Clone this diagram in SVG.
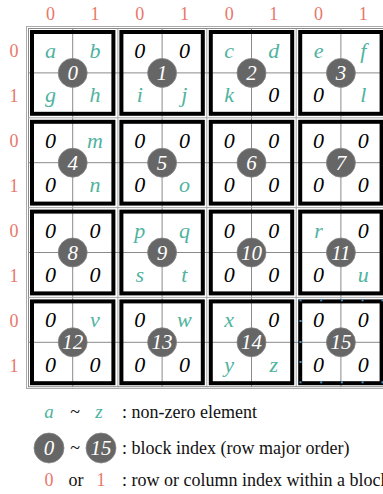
<svg xmlns="http://www.w3.org/2000/svg" width="383" height="494" viewBox="0 0 383 494">
<style>
.grid line{stroke:#8a8a8a;stroke-width:1}
.blk{fill:none;stroke:#000;stroke-width:4}
.nz{font-family:"Liberation Serif","Times New Roman",serif;font-style:italic;font-size:22px;fill:#4fb3a0;text-anchor:middle}
.z{font-family:"Liberation Serif","Times New Roman",serif;font-style:italic;font-size:22px;fill:#000;text-anchor:middle}
.circ{fill:#666;stroke:#888;stroke-width:0.8}
.cn{font-family:"Liberation Serif","Times New Roman",serif;font-style:italic;font-size:21px;fill:#fff;text-anchor:middle}
.ax{font-family:"Liberation Serif","Times New Roman",serif;font-size:18px;fill:#e8776a;text-anchor:middle}
.lg{font-family:"Liberation Serif","Times New Roman",serif;font-size:18px;fill:#111}
.h{fill:#4a8fc4}
</style>
<rect width="383" height="494" fill="#fff"/>
<g id="axes">
<text class="ax" x="50.4" y="20">0</text><text class="ax" x="95" y="20">1</text>
<text class="ax" x="139.8" y="20">0</text><text class="ax" x="184.4" y="20">1</text>
<text class="ax" x="229.2" y="20">0</text><text class="ax" x="273.8" y="20">1</text>
<text class="ax" x="318.6" y="20">0</text><text class="ax" x="363.2" y="20">1</text>
<text class="ax" x="14" y="56.5">0</text><text class="ax" x="14" y="101.5">1</text>
<text class="ax" x="14" y="146.5">0</text><text class="ax" x="14" y="191.5">1</text>
<text class="ax" x="14" y="236.5">0</text><text class="ax" x="14" y="281.5">1</text>
<text class="ax" x="14" y="326.5">0</text><text class="ax" x="14" y="371.5">1</text>
</g>
<g id="grid" class="grid">
<rect x="26.5" y="26.5" width="370" height="362" fill="none" stroke="#aaa" stroke-width="1"/>
<line x1="28.5" y1="28.5" x2="28.5" y2="387.2"/>
<line x1="72.7" y1="28" x2="72.7" y2="387.2"/>
<line x1="117.9" y1="28" x2="117.9" y2="387.2" style="stroke:#aaa"/>
<line x1="162.1" y1="28" x2="162.1" y2="387.2"/>
<line x1="206.8" y1="28" x2="206.8" y2="387.2" style="stroke:#aaa"/>
<line x1="251.5" y1="28" x2="251.5" y2="387.2"/>
<line x1="296.2" y1="28" x2="296.2" y2="387.2" style="stroke:#aaa"/>
<line x1="340.9" y1="28" x2="340.9" y2="387.2"/>
<line x1="28" y1="28.5" x2="385" y2="28.5"/>
<line x1="28" y1="72.9" x2="385" y2="72.9"/>
<line x1="28" y1="117.8" x2="385" y2="117.8" style="stroke:#aaa"/>
<line x1="28" y1="162.7" x2="385" y2="162.7"/>
<line x1="28" y1="207.6" x2="385" y2="207.6" style="stroke:#aaa"/>
<line x1="28" y1="252.5" x2="385" y2="252.5"/>
<line x1="28" y1="297.4" x2="385" y2="297.4" style="stroke:#aaa"/>
<line x1="28" y1="342.3" x2="385" y2="342.3"/>
<line x1="28" y1="386.7" x2="385" y2="386.7"/>
</g>
<g id="block0"><rect class="blk" x="32" y="32" width="81.4" height="81.8"/>
<text class="nz" x="50.4" y="57.5">a</text><text class="nz" x="95" y="57.5">b</text><text class="nz" x="50.4" y="102">g</text><text class="nz" x="95" y="102">h</text>
<circle class="circ" cx="72.7" cy="72.9" r="14.5"/><text class="cn" x="72.7" y="80">0</text></g>
<g id="block1"><rect class="blk" x="121.4" y="32" width="81.4" height="81.8"/>
<text class="z" x="139.8" y="57.5">0</text><text class="z" x="184.4" y="57.5">0</text><text class="nz" x="139.8" y="102">i</text><text class="nz" x="184.4" y="102">j</text>
<circle class="circ" cx="162.1" cy="72.9" r="14.5"/><text class="cn" x="162.1" y="80">1</text></g>
<g id="block2"><rect class="blk" x="210.8" y="32" width="81.4" height="81.8"/>
<text class="nz" x="229.2" y="57.5">c</text><text class="nz" x="273.8" y="57.5">d</text><text class="nz" x="229.2" y="102">k</text><text class="z" x="273.8" y="102">0</text>
<circle class="circ" cx="251.5" cy="72.9" r="14.5"/><text class="cn" x="251.5" y="80">2</text></g>
<g id="block3"><rect class="blk" x="300.2" y="32" width="81.4" height="81.8"/>
<text class="nz" x="318.6" y="57.5">e</text><text class="nz" x="363.2" y="57.5">f</text><text class="z" x="318.6" y="102">0</text><text class="nz" x="363.2" y="102">l</text>
<circle class="circ" cx="340.9" cy="72.9" r="14.5"/><text class="cn" x="340.9" y="80">3</text></g>

<g id="block4"><rect class="blk" x="32" y="121.8" width="81.4" height="81.8"/>
<text class="z" x="50.4" y="147.5">0</text><text class="nz" x="95" y="147.5">m</text><text class="z" x="50.4" y="192">0</text><text class="nz" x="95" y="192">n</text>
<circle class="circ" cx="72.7" cy="162.7" r="14.5"/><text class="cn" x="72.7" y="169.8">4</text></g>
<g id="block5"><rect class="blk" x="121.4" y="121.8" width="81.4" height="81.8"/>
<text class="z" x="139.8" y="147.5">0</text><text class="z" x="184.4" y="147.5">0</text><text class="z" x="139.8" y="192">0</text><text class="nz" x="184.4" y="192">o</text>
<circle class="circ" cx="162.1" cy="162.7" r="14.5"/><text class="cn" x="162.1" y="169.8">5</text></g>
<g id="block6"><rect class="blk" x="210.8" y="121.8" width="81.4" height="81.8"/>
<text class="z" x="229.2" y="147.5">0</text><text class="z" x="273.8" y="147.5">0</text><text class="z" x="229.2" y="192">0</text><text class="z" x="273.8" y="192">0</text>
<circle class="circ" cx="251.5" cy="162.7" r="14.5"/><text class="cn" x="251.5" y="169.8">6</text></g>
<g id="block7"><rect class="blk" x="300.2" y="121.8" width="81.4" height="81.8"/>
<text class="z" x="318.6" y="147.5">0</text><text class="z" x="363.2" y="147.5">0</text><text class="z" x="318.6" y="192">0</text><text class="z" x="363.2" y="192">0</text>
<circle class="circ" cx="340.9" cy="162.7" r="14.5"/><text class="cn" x="340.9" y="169.8">7</text></g>

<g id="block8"><rect class="blk" x="32" y="211.6" width="81.4" height="81.8"/>
<text class="z" x="50.4" y="237.5">0</text><text class="z" x="95" y="237.5">0</text><text class="z" x="50.4" y="282">0</text><text class="z" x="95" y="282">0</text>
<circle class="circ" cx="72.7" cy="252.5" r="14.5"/><text class="cn" x="72.7" y="259.6">8</text></g>
<g id="block9"><rect class="blk" x="121.4" y="211.6" width="81.4" height="81.8"/>
<text class="nz" x="139.8" y="237.5">p</text><text class="nz" x="184.4" y="237.5">q</text><text class="nz" x="139.8" y="282">s</text><text class="nz" x="184.4" y="282">t</text>
<circle class="circ" cx="162.1" cy="252.5" r="14.5"/><text class="cn" x="162.1" y="259.6">9</text></g>
<g id="block10"><rect class="blk" x="210.8" y="211.6" width="81.4" height="81.8"/>
<text class="z" x="229.2" y="237.5">0</text><text class="z" x="273.8" y="237.5">0</text><text class="z" x="229.2" y="282">0</text><text class="z" x="273.8" y="282">0</text>
<circle class="circ" cx="251.5" cy="252.5" r="14.5"/><text class="cn" x="251.5" y="259.6">10</text></g>
<g id="block11"><rect class="blk" x="300.2" y="211.6" width="81.4" height="81.8"/>
<text class="nz" x="318.6" y="237.5">r</text><text class="z" x="363.2" y="237.5">0</text><text class="z" x="318.6" y="282">0</text><text class="nz" x="363.2" y="282">u</text>
<circle class="circ" cx="340.9" cy="252.5" r="14.5"/><text class="cn" x="340.9" y="259.6">11</text></g>

<g id="block12"><rect class="blk" x="32" y="301.4" width="81.4" height="81.8"/>
<text class="z" x="50.4" y="327">0</text><text class="nz" x="95" y="327">v</text><text class="z" x="50.4" y="371.5">0</text><text class="z" x="95" y="371.5">0</text>
<circle class="circ" cx="72.7" cy="342.3" r="14.5"/><text class="cn" x="72.7" y="349.4">12</text></g>
<g id="block13"><rect class="blk" x="121.4" y="301.4" width="81.4" height="81.8"/>
<text class="z" x="139.8" y="327">0</text><text class="nz" x="184.4" y="327">w</text><text class="z" x="139.8" y="371.5">0</text><text class="z" x="184.4" y="371.5">0</text>
<circle class="circ" cx="162.1" cy="342.3" r="14.5"/><text class="cn" x="162.1" y="349.4">13</text></g>
<g id="block14"><rect class="blk" x="210.8" y="301.4" width="81.4" height="81.8"/>
<text class="nz" x="229.2" y="327">x</text><text class="z" x="273.8" y="327">0</text><text class="nz" x="229.2" y="371.5">y</text><text class="nz" x="273.8" y="371.5">z</text>
<circle class="circ" cx="251.5" cy="342.3" r="14.5"/><text class="cn" x="251.5" y="349.4">14</text></g>
<g id="block15"><rect class="blk" x="300.2" y="301.4" width="81.4" height="81.8"/>
<text class="z" x="318.6" y="327">0</text><text class="z" x="363.2" y="327">0</text><text class="z" x="318.6" y="371.5">0</text><text class="z" x="363.2" y="371.5">0</text>
<circle class="circ" cx="340.9" cy="342.3" r="14.5"/><text class="cn" x="340.9" y="349.4">15</text>
<g class="h">
<rect x="299.5" y="299.3" width="2" height="2"/><rect x="320.2" y="299.3" width="2" height="2"/><rect x="340.9" y="299.3" width="2" height="2"/><rect x="361.6" y="299.3" width="2" height="2"/><rect x="381.5" y="299.3" width="2" height="2"/>
<rect x="299.5" y="320" width="2" height="2"/><rect x="299.5" y="341" width="2" height="2"/><rect x="299.5" y="361" width="2" height="2"/>
<rect x="299.5" y="381.3" width="2" height="2"/><rect x="320.2" y="381.3" width="2" height="2"/><rect x="340.9" y="381.3" width="2" height="2"/><rect x="361.6" y="381.3" width="2" height="2"/><rect x="381.5" y="381.3" width="2" height="2"/>
</g></g>

<g id="legend">
<text class="nz" x="49" y="418" style="font-size:19px">a</text>
<text class="lg" x="75" y="418" text-anchor="middle">~</text>
<text class="nz" x="99" y="418" style="font-size:19px">z</text>
<text class="lg" x="122" y="418">: non-zero element</text>
<circle class="circ" cx="49" cy="448" r="15"/><text class="cn" x="49" y="455">0</text>
<text class="lg" x="75" y="454" text-anchor="middle">~</text>
<circle class="circ" cx="101" cy="448" r="15"/><text class="cn" x="101" y="455">15</text>
<text class="lg" x="122" y="454">: block index (row major order)</text>
<text class="ax" x="49" y="486">0</text>
<text class="lg" x="76" y="486" text-anchor="middle">or</text>
<text class="ax" x="101" y="486">1</text>
<text class="lg" x="122" y="486">: row or column index within a block</text>
</g>
</svg>
